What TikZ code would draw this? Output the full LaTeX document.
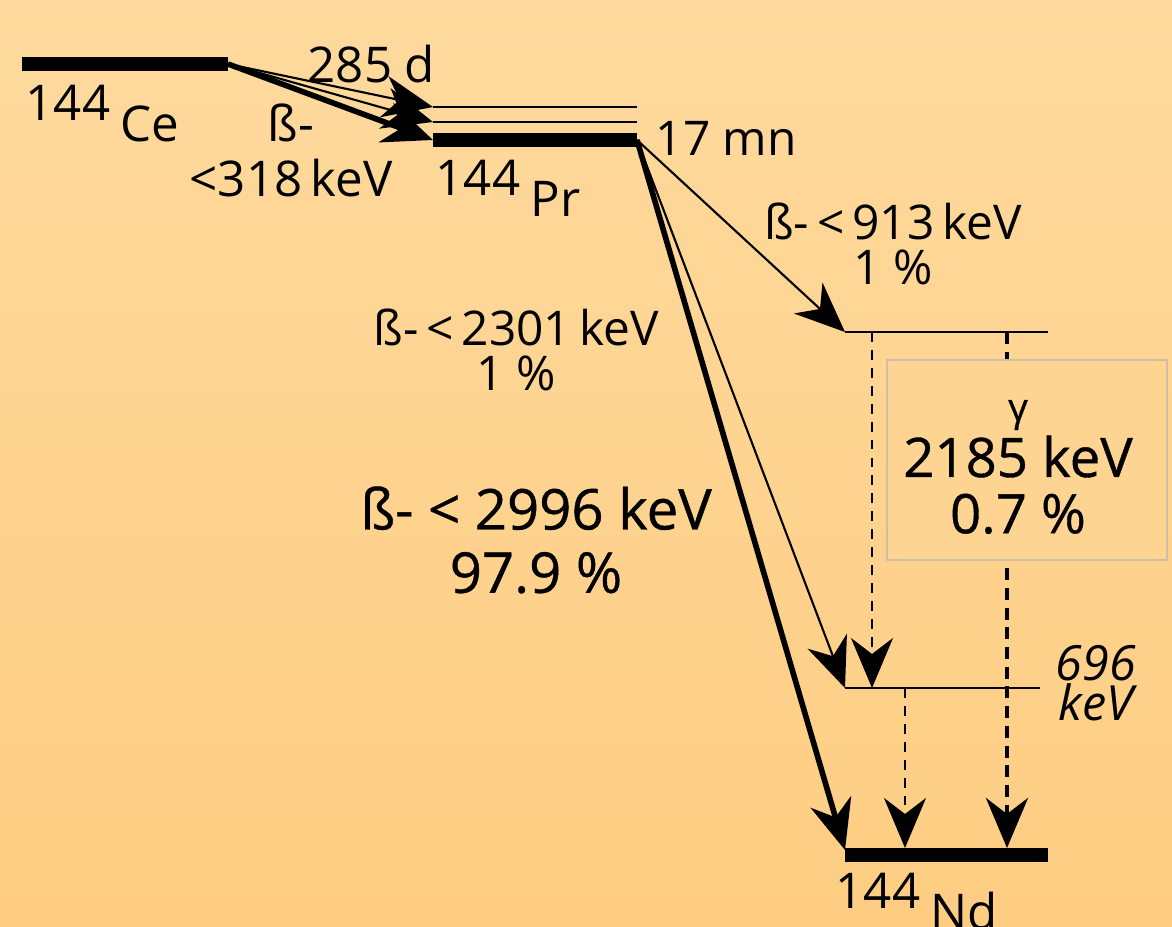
\documentclass[tikz,border=0pt]{standalone}
\usepackage{fontspec}
\setmainfont{Open Sans}
\newfontfamily\medfont{Open Sans}[FakeBold=0.7]
\usetikzlibrary{arrows.meta,positioning}

\definecolor{bgtop}{RGB}{254,218,158}
\definecolor{bgbot}{RGB}{254,205,130}
\definecolor{boxfill}{RGB}{254,212,146}
\definecolor{boxline}{RGB}{205,190,165}

\newcommand{\nucl}[2]{#1\hspace{3pt}\raisebox{-6pt}{#2}}

\begin{document}
\begin{tikzpicture}[x=0.01cm, y=-0.01cm,
  level/.style={line width=4.2pt},
  sublevel/.style={line width=0.6pt},
  tip/.style={-{Stealth[length=5mm, width=4.2mm, inset=1.6mm]}},
  beta/.style={tip, line width=0.6pt},
  bigbeta/.style={tip, line width=1.6pt},
  gam/.style={tip, line width=0.6pt, dash pattern=on 2.8pt off 2.3pt},
  biggam/.style={tip, line width=1.4pt, dash pattern=on 3.4pt off 2.2pt},
  lbl/.style={font=\fontsize{13.6}{13}\selectfont, align=center, inner sep=0pt},
  biglbl/.style={font=\fontsize{16}{18}\selectfont\medfont, align=center, inner sep=0pt},
  iso/.style={font=\fontsize{14}{14}\selectfont, anchor=base west, inner sep=0pt}
]
% background
\shade[top color=bgtop, bottom color=bgbot] (0,0) rectangle (1172,927);
\useasboundingbox (0,0) rectangle (1172,927);

% levels
\coordinate (ceL) at (22,64);    \coordinate (ceR) at (228,64);
\coordinate (prL) at (433,140);  \coordinate (prR) at (637,140);
\coordinate (prAL) at (433,107); \coordinate (prAR) at (637,107);
\coordinate (prBL) at (433,122); \coordinate (prBR) at (637,122);
\coordinate (hiL) at (845,332);  \coordinate (hiR) at (1048,332);
\coordinate (loL) at (845,688);  \coordinate (loR) at (1040,688);
\coordinate (ndL) at (845,855);  \coordinate (ndR) at (1048,855);
\coordinate (ndTip) at (845,850);

\draw[level] (ceL) -- (ceR);
\draw[level] (prL) -- (prR);
\draw[sublevel] (prAL) -- (prAR);
\draw[sublevel] (prBL) -- (prBR);
\draw[sublevel] (hiL) -- (hiR);
\draw[sublevel] (loL) -- (loR);
\draw[level] (ndL) -- (ndR);

% beta decays
\draw[beta] (ceR) -- (prAL);
\draw[beta] (ceR) -- (prBL);
\draw[bigbeta] (ceR) -- (prL);
\draw[beta] (prR) -- (hiL);
\draw[beta] (prR) -- (loL);
\draw[bigbeta] (prR) -- (ndTip);

% gamma lines
\coordinate (g1a) at (872,332);  \coordinate (g1b) at (872,688);
\coordinate (g2a) at (1007,332); \coordinate (g2b) at (1007,848);
\coordinate (g3a) at (905,688);  \coordinate (g3b) at (905,848);
\draw[gam] (g1a) -- (g1b);
\draw[biggam] (g2a) -- (g2b);
\draw[gam] (g3a) -- (g3b);

\node[draw=boxline, line width=0.4pt, fill=boxfill, minimum width=2.8cm,
      minimum height=2cm] (gbox) at (1027,460) {};

% labels
\node[iso] (ce) at (25,120) {\nucl{144}{Ce}};
\node[iso] (pr) at (435,195) {\nucl{144}{Pr}};
\node[iso] (nd) at (835,908) {\nucl{144}{Nd}};

\node[lbl, font=\fontsize{14}{14}\selectfont, anchor=base west] (tce) at (307,82) {285 d};
\node[lbl, font=\fontsize{14}{15.6}\selectfont] (bce) at (291,150) {ß-\\<318\,keV};
\node[lbl, anchor=base west] (tpr) at (655,155) {17 mn};
\node[lbl] (b913) at (893,244) {ß-\,<\,913\,keV\\1 \%};
\node[lbl] (b2301) at (516,350) {ß-\,<\,2301\,keV\\1 \%};
\node[biglbl] (b2996) at (536,540) {ß- < 2996 keV\\97.9 \%};
\node[lbl, font=\fontsize{13.8}{11.5}\selectfont\itshape] (e696) at (1096,683) {696\\keV};
\node[biglbl, font=\fontsize{15.5}{16}\selectfont\medfont] (g2185) at (1018,467)
  {{\fontsize{11}{11}\selectfont γ}\\2185 keV\\0.7 \%};
\end{tikzpicture}
\end{document}
